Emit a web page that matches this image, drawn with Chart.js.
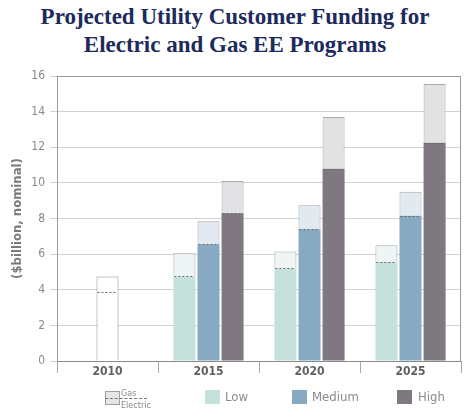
<!DOCTYPE html>
<html>
<head>
<meta charset="utf-8">
<script src="https://cdn.jsdelivr.net/npm/chart.js@4"></script>
<style>
  html, body { margin: 0; padding: 0; background: #fff; }
  #wrap { position: relative; width: 470px; height: 418px; overflow: hidden; }
  #chart { position: absolute; left: 0; top: 0; }
  .title {
    position: absolute; left: 0; top: 3px; width: 470px; text-align: center;
    font: bold 23px 'Liberation Serif', serif; line-height: 28px; color: #1c2a5c;
  }
  .legend { position: absolute; top: 390px; font-family: 'Liberation Sans Narrow', 'DejaVu Sans Condensed', sans-serif; color: #8a8a8a; }
  .sw { position: absolute; width: 15px; height: 14px; top: 0; }
  .lbl { position: absolute; top: -1px; font-size: 13px; white-space: nowrap; }
  .ge-box { position: absolute; left: 0; top: 1px; width: 13px; height: 12px; background: #e6e6e6; border: 1px solid #a0a0a0; }
  .ge-line { position: absolute; left: 0; top: 8px; width: 42px; border-top: 1px dashed #777; }
  .ge-txt { position: absolute; left: 16px; font-size: 9px; line-height: 10px; white-space: nowrap; }
</style>
</head>
<body>
<div id="wrap">
  <div class="title">Projected Utility Customer Funding for<br>Electric and Gas EE Programs</div>
  <canvas id="chart" width="470" height="418"></canvas>

  <div class="legend" style="left:105px">
    <div class="ge-box"></div>
    <div class="ge-line"></div>
    <div class="ge-txt" style="top:-2px">Gas</div>
    <div class="ge-txt" style="top:10px">Electric</div>
  </div>
  <div class="legend" style="left:205px">
    <div class="sw" style="background:#c4e1dc"></div><div class="lbl" style="left:20px">Low</div>
  </div>
  <div class="legend" style="left:292px">
    <div class="sw" style="background:#87a9c2"></div><div class="lbl" style="left:20px">Medium</div>
  </div>
  <div class="legend" style="left:397px">
    <div class="sw" style="background:#7f7880"></div><div class="lbl" style="left:21px">High</div>
  </div>
</div>

<script>
// ── データ ──
const categories = ['2010', '2015', '2020', '2025'];
const yTicks = [0, 2, 4, 6, 8, 10, 12, 14, 16];

// 2010 実績（電気 / 合計）
const baseElectric = [3.9, null, null, null];
const baseTotal    = [4.75, null, null, null];

// シナリオ別（電気 / 電気+ガス 合計）
const lowElectric    = [null, 4.75, 5.2, 5.55];
const lowTotal       = [null, 6.05, 6.15, 6.5];
const mediumElectric = [null, 6.55, 7.4, 8.15];
const mediumTotal    = [null, 7.85, 8.75, 9.5];
const highElectric   = [null, 8.3, 10.8, 12.25];
const highTotal      = [null, 10.1, 13.7, 15.55];

const gasOf = (total, elec) => total.map((t, i) => t == null ? null : +(t - elec[i]).toFixed(2));

const FONT = "'Liberation Sans Narrow', 'DejaVu Sans Condensed', sans-serif";
const GAS_BORDER = '#a8a8a8';

const elecSet = (label, data, color, stack) => ({
  label, data, stack, backgroundColor: color, borderWidth: 0, isElectric: true
});
const gasSet = (label, data, color, stack) => ({
  label, data, stack, backgroundColor: color,
  borderColor: GAS_BORDER, borderWidth: { top: 1, left: 1, right: 1, bottom: 0 }, borderSkipped: false
});

const datasets = [
  elecSet('Low Electric', lowElectric, '#c4e1dc', 'low'),
  gasSet('Low Gas', gasOf(lowTotal, lowElectric), '#eef5f4', 'low'),
  elecSet('Medium Electric', mediumElectric, '#87a9c2', 'medium'),
  gasSet('Medium Gas', gasOf(mediumTotal, mediumElectric), '#e2eaf1', 'medium'),
  {
    label: '2010 Electric', data: baseElectric, stack: 'medium', backgroundColor: '#ffffff',
    borderColor: '#8c8c8c', borderWidth: { top: 0, left: 1, right: 1, bottom: 0 }, borderSkipped: false, isElectric: true
  },
  {
    label: '2010 Gas', data: gasOf(baseTotal, baseElectric), stack: 'medium', backgroundColor: '#ffffff',
    borderColor: '#8c8c8c', borderWidth: { top: 1, left: 1, right: 1, bottom: 0 }, borderSkipped: false
  },
  elecSet('High Electric', highElectric, '#7f7880', 'high'),
  gasSet('High Gas', gasOf(highTotal, highElectric), '#e2e2e4', 'high'),
];

// ── 枠線と点線（電気/ガス境界） ──
const framePlugin = {
  id: 'frame',
  beforeDatasetsDraw(chart) {
    const { ctx, chartArea: a } = chart;
    ctx.save();
    ctx.strokeStyle = '#9a9a9a';
    ctx.lineWidth = 1;
    ctx.beginPath();
    ctx.moveTo(a.left, a.top + 0.5);
    ctx.lineTo(a.right - 0.5, a.top + 0.5);
    ctx.lineTo(a.right - 0.5, a.bottom);
    ctx.stroke();
    ctx.restore();
  },
  afterDatasetsDraw(chart) {
    const { ctx } = chart;
    ctx.save();
    ctx.strokeStyle = '#6a6a6a';
    ctx.lineWidth = 1;
    ctx.setLineDash([2, 2]);
    chart.data.datasets.forEach((ds, di) => {
      if (!ds.isElectric) return;
      chart.getDatasetMeta(di).data.forEach((bar, i) => {
        if (ds.data[i] == null) return;
        const y = Math.round(bar.y) + 0.5;
        ctx.beginPath();
        ctx.moveTo(bar.x - bar.width / 2 + 1, y);
        ctx.lineTo(bar.x + bar.width / 2 - 1, y);
        ctx.stroke();
      });
    });
    ctx.restore();
  }
};

new Chart(document.getElementById('chart'), {
  type: 'bar',
  data: { labels: categories, datasets },
  plugins: [framePlugin],
  options: {
    responsive: false,
    animation: false,
    layout: { padding: { top: 76, left: 5, right: 9, bottom: 39 } },
    categoryPercentage: 0.715,
    barPercentage: 0.915,
    plugins: { legend: { display: false }, tooltip: { enabled: false } },
    scales: {
      x: {
        stacked: true,
        offset: true,
        grid: { offset: true, drawOnChartArea: false, drawTicks: true, tickLength: 12, color: '#a8a8a8' },
        border: { color: '#8a8a8a' },
        ticks: { padding: -8, color: '#606060', font: { family: FONT, size: 12, weight: 'bold' } },
        afterFit: s => { s.height = 18; }
      },
      y: {
        stacked: true,
        min: 0, max: 16,
        afterBuildTicks: s => { s.ticks = yTicks.map(v => ({ value: v })); },
        grid: { color: '#d2d2d2', tickLength: 7 },
        border: { color: '#9a9a9a' },
        ticks: { padding: 5, color: '#8a8a8a', font: { family: FONT, size: 12 } },
        title: {
          display: true, text: '($billion, nominal)', color: '#7a7a7a',
          font: { family: FONT, size: 13, weight: 'bold' }, padding: { top: 5, bottom: 0 }
        },
        afterFit: s => { s.width = 52; }
      }
    }
  }
});
</script>
</body>
</html>
